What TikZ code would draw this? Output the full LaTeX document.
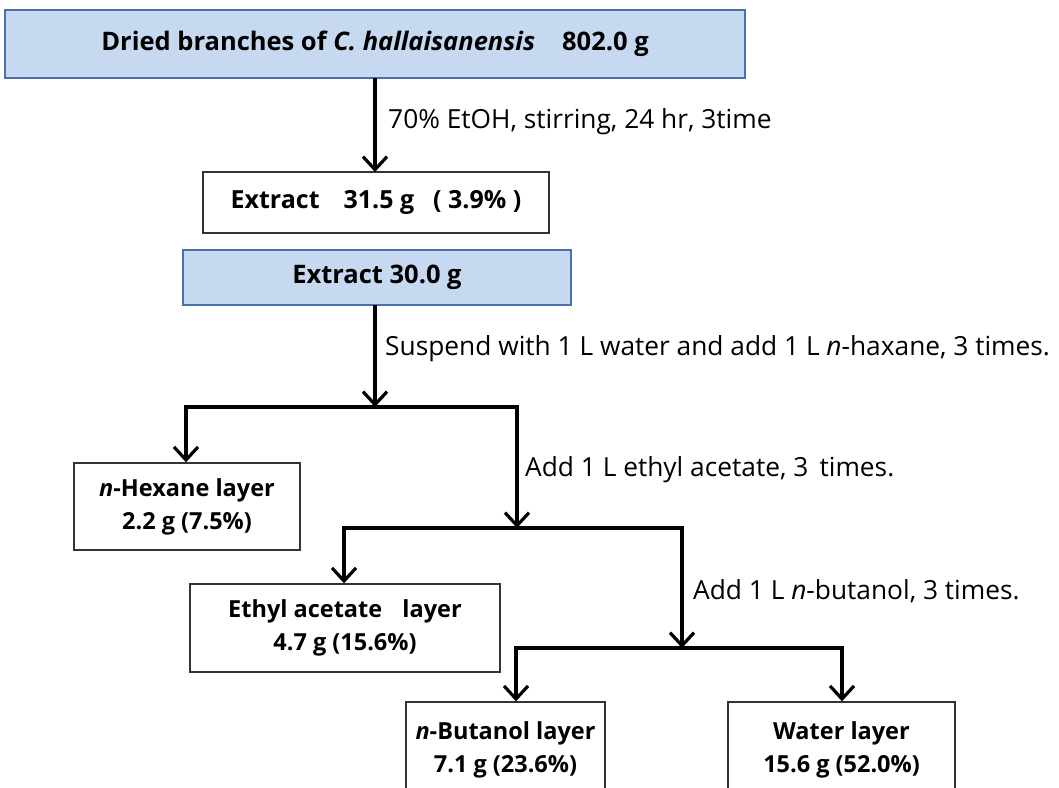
\documentclass[tikz,border=0pt]{standalone}
\usepackage{fontspec}
\setmainfont{Open Sans}
\usetikzlibrary{arrows.meta}
\definecolor{boxblue}{HTML}{C6D9F1}
\definecolor{boxedge}{HTML}{4A72A8}
\tikzset{
  bluebox/.style={draw=boxedge, line width=2.2pt, fill=boxblue, inner sep=0pt, font=\fontsize{25.5}{33}\selectfont\bfseries},
  whitebox/.style={draw=black!80, line width=1.4pt, fill=white, inner sep=0pt, align=center, font=\fontsize{23.5}{33}\selectfont\bfseries},
  lbl/.style={anchor=west, inner sep=0pt, font=\fontsize{26.3}{30}\selectfont},
  flow/.style={line width=3.6pt, -{Straight Barb[length=13pt, width=24pt, line width=3.2pt]}},
  bar/.style={line width=3.6pt, line cap=rect}
}
\begin{document}
\begin{tikzpicture}[x=1pt,y=-1pt]
\useasboundingbox (0,0) rectangle (1059,787);
\node[bluebox, minimum width=740pt, minimum height=68pt] (top) at (375,44)
  {Dried branches of \textit{C. hallaisanensis}\hspace{0.8em} 802.0 g};
\node[whitebox, font=\fontsize{25}{33}\selectfont\bfseries, minimum width=346pt, minimum height=61pt] (ext) at (376,202.5)
  {Extract\hspace{0.7em} 31.5 g\hspace{0.5em} ( 3.9\% )};
\node[bluebox, minimum width=388pt, minimum height=55pt] (ext30) at (377,277.5)
  {Extract 30.0 g};
\node[whitebox, minimum width=226pt, minimum height=87pt] (hex) at (187,506.5)
  {\textit{n}-Hexane layer\\2.2 g (7.5\%)};
\node[whitebox, minimum width=310pt, minimum height=88pt] (eth) at (345,628)
  {Ethyl acetate\hspace{0.6em} layer\\4.7 g (15.6\%)};
\node[whitebox, minimum width=199pt, minimum height=96pt] (but) at (505.5,750)
  {\textit{n}-Butanol layer\\7.1 g (23.6\%)};
\node[whitebox, minimum width=227pt, minimum height=96pt] (wat) at (841.5,750)
  {Water layer\\15.6 g (52.0\%)};

\coordinate (t1) at (375,78);
\coordinate (e1) at (375,172);
\coordinate (s1) at (375,305);
\coordinate (j1) at (375,407);
\coordinate (l1) at (186,407);
\coordinate (r1) at (517,407);
\coordinate (j2) at (517,528);
\coordinate (l2) at (344,528);
\coordinate (r2) at (682,528);
\coordinate (j3) at (682,648);
\coordinate (l3) at (516,648);
\coordinate (r3) at (842,648);

\draw[flow] (t1) -- (e1);
\draw[flow] (s1) -- (j1);
\draw[bar] (l1) -- (r1);
\draw[flow] (l1) -- (l1 |- hex.north);
\draw[flow] (r1) -- (j2);
\draw[bar] (l2) -- (r2);
\draw[flow] (l2) -- (l2 |- eth.north);
\draw[flow] (r2) -- (j3);
\draw[bar] (l3) -- (r3);
\draw[flow] (l3) -- (l3 |- but.north);
\draw[flow] (r3) -- (r3 |- wat.north);

\node[lbl] (a1) at (388,122) {70\% EtOH, stirring, 24 hr, 3time};
\node[lbl] (a2) at (385,349) {Suspend with 1 L water and add 1 L \textit{n}-haxane, 3 times.};
\node[lbl] (a3) at (525,470) {Add 1 L ethyl acetate, 3\, times.};
\node[lbl] (a4) at (693,591) {Add 1 L \textit{n}-butanol, 3 times.};
\end{tikzpicture}
\end{document}
